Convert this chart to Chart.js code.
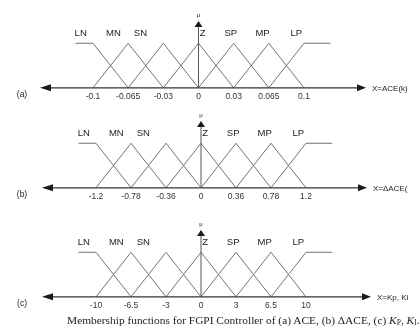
<!DOCTYPE html>
<html>
<head>
<meta charset="utf-8">
<script src="https://cdn.jsdelivr.net/npm/chart.js@4.4.1/dist/chart.umd.min.js"></script>
<style>
  body { margin: 0; background: #fff; }
  #wrap { position: relative; width: 419px; height: 329px; overflow: hidden; }
  canvas { position: absolute; left: 0; }
  #caption { position: absolute; left: 67px; top: 314px; font: 11.4px "Liberation Serif", "Times New Roman", serif; color: #222; white-space: nowrap; }
  #caption sub { font-size: 7.5px; vertical-align: -1px; }
</style>
</head>
<body>
<div id="wrap">
  <canvas id="chartA" width="419" height="106" style="top:0"></canvas>
  <canvas id="chartB" width="419" height="106" style="top:100px"></canvas>
  <canvas id="chartC" width="419" height="106" style="top:209px"></canvas>
  <div id="caption">Membership functions for FGPI Controller of (a) ACE, (b) &Delta;ACE, (c) <i>K</i><sub>P</sub>, <i>K</i><sub>I</sub>.</div>
</div>
<script>
// fuzzy terms and tick labels of each universe
const terms = ['LN', 'MN', 'SN', 'Z', 'SP', 'MP', 'LP'];
const aceTicks = ['-0.1', '-0.065', '-0.03', '0', '0.03', '0.065', '0.1'];
const dAceTicks = ['-1.2', '-0.78', '-0.36', '0', '0.36', '0.78', '1.2'];
const kTicks = ['-10', '-6.5', '-3', '0', '3', '6.5', '10'];

// membership function breakpoints (x in tick steps, y = degree)
const mfX = [
  [-3.5, -3, -2],
  [-3, -2, -1],
  [-2, -1, 0],
  [-1, 0, 1],
  [0, 1, 2],
  [1, 2, 3],
  [2, 3, 3.75]
];
const mfY = [
  [1, 1, 0],
  [0, 1, 0],
  [0, 1, 0],
  [0, 1, 0],
  [0, 1, 0],
  [0, 1, 0],
  [0, 1, 1]
];

const FONT = '"Liberation Sans", Arial, sans-serif';
// where the term names sit, relative to the tick steps
const termShift = [-3.35, -2.42, -1.65, 0.12, 0.92, 1.82, 2.78];

const arrowAxes = {
  id: 'arrowAxes',
  afterDatasetsDraw(chart, args, opts) {
    const { ctx, chartArea: a, scales: { x, y } } = chart;
    const y0 = y.getPixelForValue(0);
    const x0 = x.getPixelForValue(0);
    ctx.save();
    ctx.strokeStyle = '#333';
    ctx.fillStyle = '#1a1a1a';
    ctx.lineWidth = 1.2;
    // x axis with arrows at both ends
    ctx.beginPath();
    ctx.moveTo(a.left + 8, y0);
    ctx.lineTo(a.right - 6, y0);
    ctx.stroke();
    ctx.beginPath();
    ctx.moveTo(a.left, y0);
    ctx.lineTo(a.left + 11, y0 - 3.5);
    ctx.lineTo(a.left + 11, y0 + 3.5);
    ctx.closePath();
    ctx.fill();
    ctx.beginPath();
    ctx.moveTo(a.right, y0);
    ctx.lineTo(a.right - 9, y0 - 3.5);
    ctx.lineTo(a.right - 9, y0 + 3.5);
    ctx.closePath();
    ctx.fill();
    // mu axis
    ctx.strokeStyle = '#555';
    ctx.lineWidth = 1;
    ctx.beginPath();
    ctx.moveTo(x0, y0);
    ctx.lineTo(x0, a.top + 5);
    ctx.stroke();
    ctx.beginPath();
    ctx.moveTo(x0, a.top);
    ctx.lineTo(x0 - 4, a.top + 6);
    ctx.lineTo(x0 + 4, a.top + 6);
    ctx.closePath();
    ctx.fill();

    ctx.fillStyle = '#222';
    ctx.textBaseline = 'middle';
    ctx.textAlign = 'center';
    ctx.font = '6px ' + FONT;
    ctx.fillText('\u03bc', x0, a.top - 6);
    ctx.font = '9.5px ' + FONT;
    terms.forEach((t, i) => {
      ctx.fillText(t, x.getPixelForValue(termShift[i]), y.getPixelForValue(1.23));
    });
    ctx.font = '8.5px ' + FONT;
    ctx.fillText(opts.tag, 22, y0 + 7);
    ctx.textAlign = 'left';
    ctx.font = '8px ' + FONT;
    ctx.fillText(opts.title, a.right + 6, y0 + 1);
    ctx.restore();
  }
};

function drawPanel(id, tickLabels, title, tag, xMin, xMax, padLeft, padRight) {
  const datasets = terms.map((t, i) => ({
    label: t,
    data: mfX[i].map((v, j) => ({ x: v, y: mfY[i][j] })),
    borderColor: '#737373',
    borderWidth: 1,
    pointRadius: 0,
    tension: 0,
    fill: false
  }));
  new Chart(document.getElementById(id).getContext('2d'), {
    type: 'line',
    data: { datasets: datasets },
    options: {
      responsive: false,
      animation: false,
      devicePixelRatio: 1,
      layout: { padding: { left: padLeft, right: padRight, top: 21, bottom: 0 } },
      plugins: {
        legend: { display: false },
        tooltip: { enabled: false },
        arrowAxes: { title: title, tag: tag }
      },
      scales: {
        x: {
          type: 'linear',
          min: xMin,
          max: xMax,
          grid: { display: false, drawTicks: false },
          border: { display: false },
          afterBuildTicks: (scale) => {
            scale.ticks = tickLabels.map((lbl, i) => ({ value: i - 3 }));
          },
          ticks: {
            padding: 4,
            autoSkip: false,
            maxRotation: 0,
            color: '#333',
            font: { family: FONT, size: 8.5 },
            callback: (v) => tickLabels[v + 3]
          }
        },
        y: {
          display: false,
          min: 0,
          max: 1.5
        }
      }
    },
    plugins: [arrowAxes]
  });
}

drawPanel('chartA', aceTicks, 'X=ACE(k)', '(a)', -4.507, 4.763, 40, 53);
drawPanel('chartB', dAceTicks, 'X=\u0394ACE(', '(b)', -4.543, 4.743, 42, 52);
drawPanel('chartC', kTicks, 'X=Kp, Ki', '(c)', -4.543, 4.857, 42, 48);
</script>
</body>
</html>
